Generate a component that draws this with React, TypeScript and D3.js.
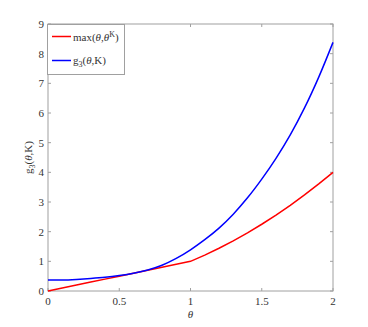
import React, { useEffect, useRef } from 'react';
import * as d3 from 'd3';

// theta samples
const thetas = [0, 0.1, 0.2, 0.3, 0.4, 0.5, 0.6, 0.7, 0.8, 0.9, 1.0,
  1.1, 1.2, 1.3, 1.4, 1.5, 1.6, 1.7, 1.8, 1.9, 2.0];
// max(theta, theta^K)
const maxValues = [0, 0.1, 0.2, 0.3, 0.4, 0.5, 0.6, 0.7, 0.8, 0.9, 1.0,
  1.21, 1.44, 1.69, 1.96, 2.25, 2.56, 2.89, 3.24, 3.61, 4.0];
// g3(theta, K)
const g3Values = [0.37, 0.37, 0.39, 0.42, 0.46, 0.52, 0.6, 0.71, 0.87, 1.1, 1.39,
  1.73, 2.12, 2.59, 3.14, 3.77, 4.47, 5.26, 6.17, 7.21, 8.38];
const xTicks = [0, 0.5, 1, 1.5, 2];
const yTicks = [0, 1, 2, 3, 4, 5, 6, 7, 8, 9];

const App = () => {
  const svgRef = useRef<SVGSVGElement>(null);
  const width = 368;
  const height = 327;

  useEffect(() => {
    const svg = d3.select(svgRef.current);
    svg.selectAll('*').remove();

    const left = 48, right = 333, top = 24, bottom = 291;
    const font = "'Liberation Serif', 'Times New Roman', Times, serif";
    const axisColor = '#a0a0a0';
    const textColor = '#333';

    const x = d3.scaleLinear().domain([0, 2]).range([left, right]);
    const y = d3.scaleLinear().domain([0, 9]).range([bottom, top]);

    svg.append('rect').attr('width', width).attr('height', height).attr('fill', '#fff');

    const tickLen = 3;
    // ticks on all sides, pointing inward
    xTicks.forEach(t => {
      svg.append('line').attr('x1', x(t)).attr('x2', x(t)).attr('y1', bottom).attr('y2', bottom - tickLen)
        .attr('stroke', axisColor);
      svg.append('line').attr('x1', x(t)).attr('x2', x(t)).attr('y1', top).attr('y2', top + tickLen)
        .attr('stroke', axisColor);
      svg.append('text').attr('x', x(t)).attr('y', 305).attr('text-anchor', 'middle')
        .style('font-family', font).style('font-size', '11px').attr('fill', textColor).text(String(t));
    });
    yTicks.forEach(t => {
      svg.append('line').attr('x1', left).attr('x2', left + tickLen).attr('y1', y(t)).attr('y2', y(t))
        .attr('stroke', axisColor);
      svg.append('line').attr('x1', right).attr('x2', right - tickLen).attr('y1', y(t)).attr('y2', y(t))
        .attr('stroke', axisColor);
      svg.append('text').attr('x', 44).attr('y', y(t) + 4).attr('text-anchor', 'end')
        .style('font-family', font).style('font-size', '11px').attr('fill', textColor).text(String(t));
    });

    svg.append('rect').attr('x', left).attr('y', top).attr('width', right - left).attr('height', bottom - top)
      .attr('fill', 'none').attr('stroke', axisColor);

    const redLine = d3.line<number>()
      .x((d, i) => x(thetas[i]))
      .y(d => y(d));
    const blueLine = d3.line<number>()
      .x((d, i) => x(thetas[i]))
      .y(d => y(d))
      .curve(d3.curveCatmullRom);

    svg.append('path').datum(maxValues).attr('d', redLine).attr('fill', 'none')
      .attr('stroke', '#ff0000').attr('stroke-width', 1.5);
    svg.append('path').datum(g3Values).attr('d', blueLine).attr('fill', 'none')
      .attr('stroke', '#0000ff').attr('stroke-width', 1.5);

    // axis labels
    svg.append('text').attr('x', (left + right) / 2).attr('y', 318).attr('text-anchor', 'middle')
      .style('font-family', font).style('font-size', '11px').style('font-style', 'italic')
      .attr('fill', textColor).text('θ');

    const yl = svg.append('text')
      .attr('transform', `translate(32,${(top + bottom) / 2}) rotate(-90)`)
      .attr('text-anchor', 'middle')
      .style('font-family', font).style('font-size', '11px').attr('fill', textColor);
    yl.append('tspan').text('g');
    yl.append('tspan').style('font-size', '8px').attr('dy', 3).text('3');
    yl.append('tspan').attr('dy', -3).text('(');
    yl.append('tspan').style('font-style', 'italic').text('θ');
    yl.append('tspan').text(',K)');

    // legend
    const lg = svg.append('g');
    lg.append('rect').attr('x', 47.5).attr('y', 24.5).attr('width', 77).attr('height', 50)
      .attr('fill', '#fff').attr('stroke', axisColor);
    lg.append('line').attr('x1', 52).attr('x2', 71).attr('y1', 36.5).attr('y2', 36.5)
      .attr('stroke', '#ff0000').attr('stroke-width', 1.5);
    lg.append('line').attr('x1', 52).attr('x2', 71).attr('y1', 60.5).attr('y2', 60.5)
      .attr('stroke', '#0000ff').attr('stroke-width', 1.5);

    const t1 = lg.append('text').attr('x', 73).attr('y', 41)
      .style('font-family', font).style('font-size', '11px').attr('fill', textColor);
    t1.append('tspan').text('max(');
    t1.append('tspan').style('font-style', 'italic').text('θ');
    t1.append('tspan').text(',');
    t1.append('tspan').style('font-style', 'italic').text('θ');
    t1.append('tspan').style('font-size', '8px').attr('dy', -4).text('K');
    t1.append('tspan').attr('dy', 4).text(')');

    const t2 = lg.append('text').attr('x', 73).attr('y', 64)
      .style('font-family', font).style('font-size', '11px').attr('fill', textColor);
    t2.append('tspan').text('g');
    t2.append('tspan').style('font-size', '8px').attr('dy', 3).text('3');
    t2.append('tspan').attr('dy', -3).text('(');
    t2.append('tspan').style('font-style', 'italic').text('θ');
    t2.append('tspan').text(',K)');
  }, []);

  return (
    <svg ref={svgRef} width={width} height={height}
      style={{ position: 'absolute', left: 0, top: 0 }} />
  );
};

export default App;
